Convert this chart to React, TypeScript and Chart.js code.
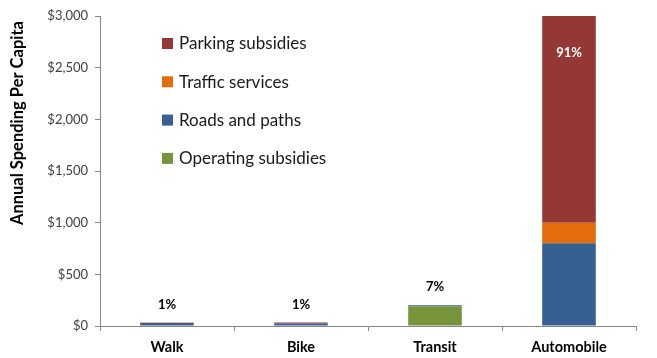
import React, { useEffect, useRef } from "react";
import { Chart, registerables } from "chart.js";

Chart.register(...registerables);

const categories = ["Walk", "Bike", "Transit", "Automobile"];
const operatingSubsidies = [0, 0, 190, 0];
const roadsAndPaths = [30, 24, 12, 800];
const trafficServices = [4, 0, 0, 200];
const parkingSubsidies = [0, 10, 0, 2000];
const shareLabels = ["1%", "1%", "7%", "91%"];
const yTicks = [0, 500, 1000, 1500, 2000, 2500, 3000];
const yTitle = "Annual Spending Per Capita";

const FONT = "Lato, 'Open Sans', sans-serif";

const labelPlugin = {
  id: "shareLabels",
  afterDatasetsDraw(chart: any) {
    const ctx = chart.ctx;
    const xs = chart.scales.x;
    const ys = chart.scales.y;
    ctx.save();
    ctx.textAlign = "center";
    ctx.textBaseline = "middle";
    ctx.font = `bold 13px ${FONT}`;
    categories.forEach((_, i) => {
      const total =
        operatingSubsidies[i] + roadsAndPaths[i] + trafficServices[i] + parkingSubsidies[i];
      const x = xs.getPixelForValue(i);
      const yTop = ys.getPixelForValue(total);
      if (i === categories.length - 1) {
        ctx.fillStyle = "#ffffff";
        ctx.fillText(shareLabels[i], x, yTop + 37);
      } else {
        ctx.fillStyle = "#000000";
        ctx.fillText(shareLabels[i], x, yTop - 18);
      }
    });
    ctx.restore();
  },
};

const legendPlugin = {
  id: "sideLegend",
  afterDraw(chart: any) {
    const ctx = chart.ctx;
    const area = chart.chartArea;
    const items = [...chart.data.datasets].reverse();
    ctx.save();
    ctx.font = `17px ${FONT}`;
    ctx.textBaseline = "middle";
    ctx.textAlign = "left";
    items.forEach((ds: any, k: number) => {
      const cy = area.top + 27 + k * 38.3;
      const sx = area.left + 62;
      ctx.fillStyle = ds.backgroundColor;
      ctx.fillRect(sx, cy - 5, 11, 11);
      ctx.fillStyle = "#1a1a1a";
      ctx.fillText(ds.label, sx + 17, cy + 1);
    });
    // rotated y-axis title
    ctx.save();
    ctx.translate(18, 123);
    ctx.rotate(-Math.PI / 2);
    ctx.textAlign = "center";
    ctx.textBaseline = "middle";
    ctx.font = `bold 16.5px ${FONT}`;
    ctx.fillStyle = "#000000";
    ctx.fillText(yTitle, 0, 0);
    ctx.restore();
    ctx.restore();
  },
};

export default function App() {
  const ref = useRef<HTMLCanvasElement | null>(null);

  useEffect(() => {
    document.body.style.margin = "0";
    const canvas = ref.current;
    if (!canvas) return;
    const chart = new Chart(canvas, {
      type: "bar",
      data: {
        labels: categories,
        datasets: [
          { label: "Operating subsidies", data: operatingSubsidies, backgroundColor: "#77933C" },
          { label: "Roads and paths", data: roadsAndPaths, backgroundColor: "#376092" },
          { label: "Traffic services", data: trafficServices, backgroundColor: "#E46C0A" },
          { label: "Parking subsidies", data: parkingSubsidies, backgroundColor: "#953735" },
        ],
      },
      options: {
        responsive: false,
        animation: false,
        maintainAspectRatio: false,
        layout: { padding: { top: 16, right: 21, bottom: 0, left: 0 } },
        datasets: { bar: { categoryPercentage: 1, barPercentage: 0.4 } },
        plugins: {
          legend: { display: false },
          tooltip: { enabled: false },
        },
        scales: {
          x: {
            stacked: true,
            afterFit: (s: any) => {
              s.height = 32;
            },
            grid: {
              display: true,
              drawOnChartArea: false,
              drawTicks: true,
              tickLength: 5,
              color: "#868686",
              offset: true,
            },
            border: { display: true, color: "#868686" },
            ticks: {
              font: { family: FONT, size: 14.5, weight: "bold" },
              color: "#000000",
              padding: 8,
            },
          },
          y: {
            stacked: true,
            min: 0,
            max: 3000,
            afterFit: (s: any) => {
              s.width = 100;
            },
            afterBuildTicks: (s: any) => {
              s.ticks = yTicks.map((v) => ({ value: v }));
            },
            grid: {
              display: true,
              drawOnChartArea: false,
              drawTicks: true,
              tickLength: 5,
              color: "#868686",
            },
            border: { display: true, color: "#868686" },
            ticks: {
              font: { family: FONT, size: 13 },
              color: "#404040",
              padding: 7,
              callback: (v: any) => "$" + Number(v).toLocaleString("en-US"),
            },
          },
        },
      },
      plugins: [labelPlugin, legendPlugin],
    });
    return () => chart.destroy();
  }, []);

  return (
    <div style={{ position: "absolute", left: 0, top: 0, width: 657, height: 358, background: "#fff" }}>
      <canvas ref={ref} width={657} height={358} style={{ width: 657, height: 358 }} />
    </div>
  );
}
